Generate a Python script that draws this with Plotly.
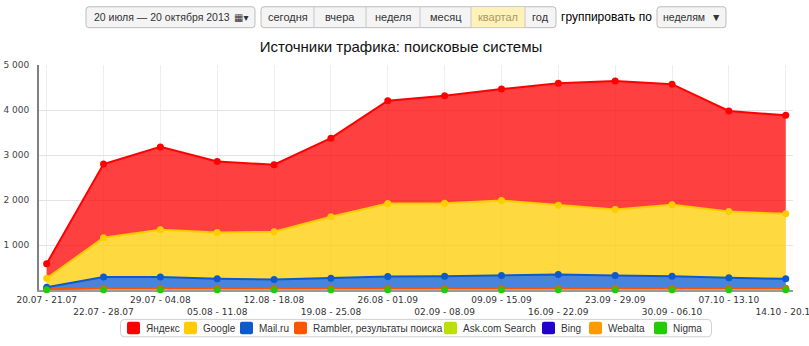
import plotly.graph_objects as go

# ---------------- data ----------------
weeks = ["20.07 - 21.07", "22.07 - 28.07", "29.07 - 04.08", "05.08 - 11.08",
         "12.08 - 18.08", "19.08 - 25.08", "26.08 - 01.09", "02.09 - 08.09",
         "09.09 - 15.09", "16.09 - 22.09", "23.09 - 29.09", "30.09 - 06.10",
         "07.10 - 13.10", "14.10 - 20.10"]

yandex = [325, 1640, 1842, 1579, 1489, 1748, 2288, 2389, 2478, 2712, 2852, 2683, 2235, 2191]
google = [200, 870, 1048, 1031, 1062, 1365, 1621, 1624, 1667, 1542, 1470, 1587, 1473, 1444]
mailru = [44, 250, 250, 208, 192, 221, 259, 265, 280, 303, 280, 265, 230, 208]
rambler = [10, 30, 30, 30, 30, 30, 30, 30, 30, 30, 30, 30, 30, 30]
askcom = [1, 1, 1, 1, 1, 1, 1, 1, 1, 1, 1, 1, 1, 1]
bing = [0, 0, 0, 0, 0, 0, 0, 0, 0, 0, 0, 0, 0, 0]
webalta = [1, 1, 1, 1, 1, 1, 1, 1, 1, 1, 1, 1, 1, 1]
nigma = [4, 8, 8, 8, 8, 8, 8, 8, 8, 8, 8, 8, 8, 8]

series_names = ["Яндекс", "Google", "Mail.ru", "Rambler, результаты поиска",
                "Ask.com Search", "Bing", "Webalta", "Nigma"]
series_values = [yandex, google, mailru, rambler, askcom, bing, webalta, nigma]
series_colors = [(255, 0, 0), (255, 204, 0), (13, 90, 205), (255, 85, 0),
                 (187, 224, 0), (34, 0, 204), (255, 153, 0), (34, 204, 0)]

y_ticks = [1000, 2000, 3000, 4000, 5000]
title_text = "Источники трафика: поисковые системы"

# ---------------- geometry helpers (pixel -> paper) ----------------
W, H = 809, 346
L, R, T, B = 39, 793, 64.5, 290.5


def px(x):
    return (x - L) / (R - L)


def py(y):
    return (B - y) / (B - T)


def hexc(c):
    return "#%02x%02x%02x" % c


def rgba(c, a):
    return "rgba(%d,%d,%d,%s)" % (c[0], c[1], c[2], a)


def rrect(x0, y0, x1, y1, r):
    X = lambda v: px(v)
    Y = lambda v: py(v)
    return ("M %f,%f L %f,%f Q %f,%f %f,%f L %f,%f Q %f,%f %f,%f L %f,%f Q %f,%f %f,%f "
            "L %f,%f Q %f,%f %f,%f Z" % (
                X(x0 + r), Y(y0), X(x1 - r), Y(y0), X(x1), Y(y0), X(x1), Y(y0 + r),
                X(x1), Y(y1 - r), X(x1), Y(y1), X(x1 - r), Y(y1),
                X(x0 + r), Y(y1), X(x0), Y(y1), X(x0), Y(y1 - r),
                X(x0), Y(y0 + r), X(x0), Y(y0), X(x0 + r), Y(y0)))


xs = list(range(len(weeks)))
fig = go.Figure()

# stacked areas: bottom first (reverse of legend order)
for name, vals, col in reversed(list(zip(series_names, series_values, series_colors))):
    fig.add_trace(go.Scatter(
        x=xs, y=vals, name=name, stackgroup="one", mode="lines+markers",
        line=dict(color=hexc(col), width=2),
        marker=dict(color=hexc(col), size=7),
        fillcolor=rgba(col, 0.75), showlegend=False, hoverinfo="skip"))

# Nigma markers on top (drawn last, as in the original)
fig.add_trace(go.Scatter(
    x=xs, y=nigma, mode="markers", marker=dict(color=hexc(series_colors[7]), size=7),
    cliponaxis=False, showlegend=False, hoverinfo="skip"))

ticktext = [w if i % 2 == 0 else "<br>" + w for i, w in enumerate(weeks)]

shapes = []
annotations = []

# ---------------- legend (manual, Highcharts-like) ----------------
shapes.append(dict(type="path", xref="paper", yref="paper",
                   path=rrect(120.5, 320, 711.5, 337.5, 4),
                   line=dict(color="#d0d0d0", width=1), fillcolor="white", layer="above"))
legend_text_x = [144, 201, 257, 311, 461, 559, 606, 671]
for name, col, tx in zip(series_names, series_colors, legend_text_x):
    sx = tx - 17
    shapes.append(dict(type="path", xref="paper", yref="paper",
                       path=rrect(sx, 322.5, sx + 13, 335, 2),
                       line=dict(width=0), fillcolor=hexc(col), layer="above"))
    annotations.append(dict(x=px(tx), y=py(329), xref="paper", yref="paper",
                            text=name, showarrow=False, xanchor="left", yanchor="middle",
                            font=dict(family="Liberation Sans, Arial", size=10, color="#333333")))

# ---------------- top toolbar ----------------
FN = "Liberation Sans, Arial"
btn_font = dict(family=FN, size=11, color="#333333")
shapes.append(dict(type="path", xref="paper", yref="paper", path=rrect(86, 6, 255, 27, 3),
                   line=dict(color="#bdbdbd", width=1), fillcolor="#f4f4f4"))
annotations.append(dict(x=px(92), y=py(16.5), xref="paper", yref="paper",
                        text="20 июля — 20 октября 2013", showarrow=False,
                        xanchor="left", yanchor="middle", font=dict(family=FN, size=10.5, color="#333333")))
annotations.append(dict(x=px(250), y=py(16.5), xref="paper", yref="paper",
                        text="▦▾", showarrow=False,
                        xanchor="right", yanchor="middle", font=dict(family="DejaVu Sans", size=10, color="#333333")))
btns = [("сегодня", 261, 314), ("вчера", 314, 366), ("неделя", 366, 420),
        ("месяц", 420, 471), ("квартал", 471, 525), ("год", 525, 556)]
shapes.append(dict(type="path", xref="paper", yref="paper", path=rrect(261, 6, 556, 27, 3),
                   line=dict(color="#bdbdbd", width=1), fillcolor="#f4f4f4"))
for lbl, x0, x1 in btns:
    if lbl == "квартал":
        shapes.append(dict(type="rect", xref="paper", yref="paper",
                           x0=px(x0), x1=px(x1), y0=py(6.5), y1=py(26.5),
                           line=dict(width=0), fillcolor="#fff2b8"))
    if x0 != 261:
        shapes.append(dict(type="line", xref="paper", yref="paper",
                           x0=px(x0), x1=px(x0), y0=py(6), y1=py(27),
                           line=dict(color="#c8c8c8", width=1)))
    f = dict(btn_font)
    if lbl == "квартал":
        f["color"] = "#a8996a"
    annotations.append(dict(x=px((x0 + x1) / 2), y=py(16.5), xref="paper", yref="paper",
                            text=lbl, showarrow=False, xanchor="center", yanchor="middle", font=f))
annotations.append(dict(x=px(559), y=py(16.5), xref="paper", yref="paper",
                        text="группировать по", showarrow=False, xanchor="left",
                        yanchor="middle", font=dict(family=FN, size=12, color="#000000")))
shapes.append(dict(type="path", xref="paper", yref="paper", path=rrect(657, 6, 726, 27, 3),
                   line=dict(color="#bdbdbd", width=1), fillcolor="#f4f4f4"))
annotations.append(dict(x=px(691.5), y=py(16.5), xref="paper", yref="paper",
                        text="неделям  ▼", showarrow=False, xanchor="center",
                        yanchor="middle", font=dict(family=FN, size=10.5, color="#333333")))

fig.update_layout(
    width=W, height=H,
    margin=dict(l=L, r=W - R, t=T, b=H - B, pad=0, autoexpand=False),
    paper_bgcolor="white", plot_bgcolor="white",
    separators=", ",
    title=dict(text=title_text, x=401 / W, xanchor="center", y=1 - 47 / H, yanchor="middle",
               font=dict(family="Liberation Sans, Arial", size=15, color="#111111")),
    xaxis=dict(range=[-0.135, 13.128], tickvals=xs, ticktext=ticktext, tickangle=0,
               automargin=False, ticklabeloverflow="allow", layer="below traces",
               showgrid=True, gridcolor="#eeeeee", gridwidth=1, zeroline=False,
               showline=True, linecolor="#9a9a9a", linewidth=2, ticks="",
               tickfont=dict(family="DejaVu Sans, Verdana", size=9, color="#333333"),
               fixedrange=True),
    yaxis=dict(range=[0, 5000], tickvals=y_ticks, tickformat=",d", automargin=False,
               layer="below traces",
               showgrid=True, gridcolor="#e4e4e4", gridwidth=1, zeroline=False,
               showline=True, linecolor="#808080", linewidth=2, ticks="",
               ticklabelstandoff=6,
               tickfont=dict(family="DejaVu Sans, Verdana", size=9, color="#444444"),
               fixedrange=True),
    shapes=shapes, annotations=annotations,
    showlegend=False, hovermode=False,
)

fig.write_html("out.html")
